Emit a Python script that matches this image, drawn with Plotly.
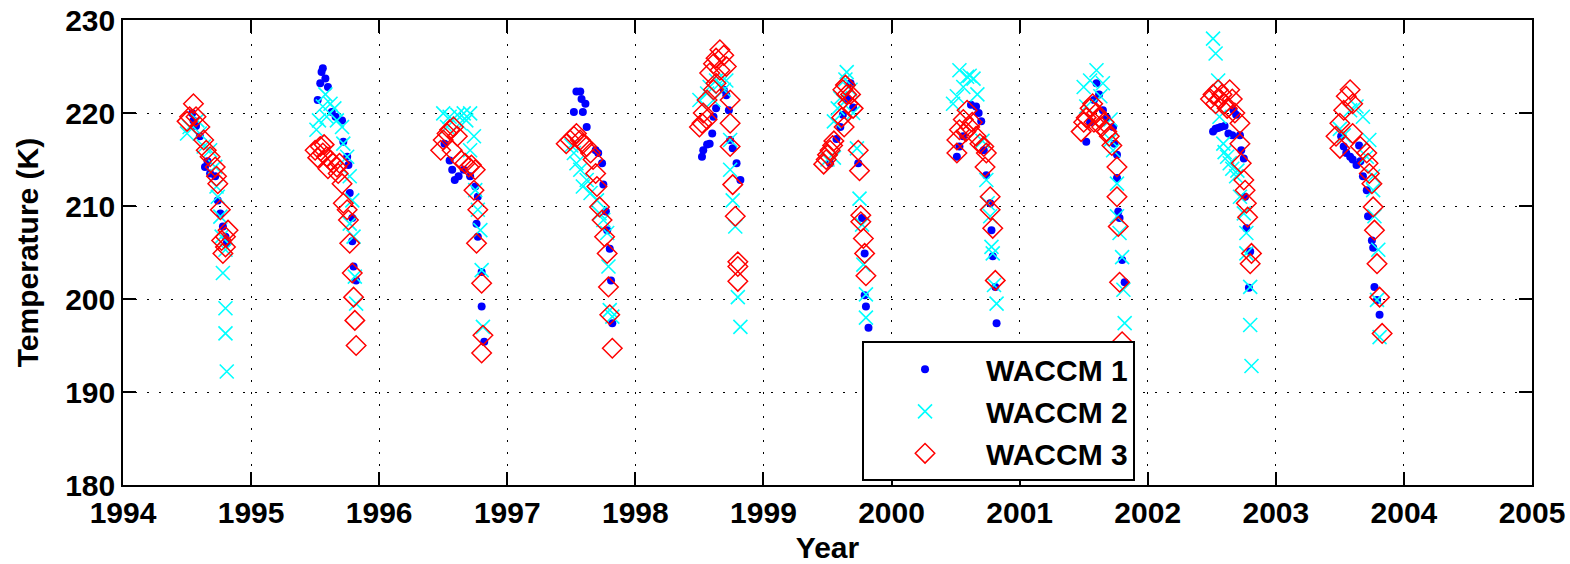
import plotly.graph_objects as go

# ---------------- data (decimal year, temperature K) ----------------
waccm1_year = [
    1994.54, 1994.55, 1994.57, 1994.60, 1994.64, 1994.66, 1994.68, 1994.72, 1994.74, 1994.76, 1994.78, 1994.80, 1994.81,
    1995.56, 1995.55, 1995.58, 1995.54, 1995.60, 1995.52, 1995.63, 1995.66, 1995.71, 1995.72, 1995.75, 1995.76, 1995.77, 1995.79, 1995.79, 1995.80, 1995.82,
    1996.51, 1996.55, 1996.57, 1996.59, 1996.62, 1996.66, 1996.71, 1996.75, 1996.77, 1996.76, 1996.77, 1996.80, 1996.80, 1996.82,
    1997.54, 1997.57, 1997.58, 1997.61, 1997.52, 1997.59, 1997.62, 1997.69, 1997.71, 1997.74, 1997.75, 1997.77, 1997.78, 1997.80, 1997.81, 1997.82,
    1998.52, 1998.53, 1998.56, 1998.58, 1998.60, 1998.63, 1998.61, 1998.69, 1998.71, 1998.73, 1998.74, 1998.76, 1998.79, 1998.82,
    1999.52, 1999.57, 1999.60, 1999.62, 1999.66, 1999.68, 1999.70, 1999.74, 1999.77, 1999.79, 1999.79, 1999.80, 1999.82,
    2000.66, 2000.70, 2000.53, 2000.51, 2000.62, 2000.68, 2000.56, 2000.72, 2000.74, 2000.77, 2000.78, 2000.79, 2000.81, 2000.82,
    2001.52, 2001.55, 2001.60, 2001.62, 2001.58, 2001.65, 2001.68, 2001.73, 2001.74, 2001.76, 2001.76, 2001.77, 2001.78, 2001.80, 2001.82,
    2002.51, 2002.53, 2002.55, 2002.57, 2002.60, 2002.63, 2002.66, 2002.67, 2002.69, 2002.72, 2002.73, 2002.75, 2002.76, 2002.77, 2002.80, 2002.79,
    2003.51, 2003.53, 2003.55, 2003.58, 2003.60, 2003.65, 2003.66, 2003.63, 2003.68, 2003.71, 2003.72, 2003.75, 2003.76, 2003.77, 2003.79, 2003.81,
]
waccm1_temp = [
    219.96, 219.2, 218.6, 217.5, 214.2, 214.8, 213.5, 213.2, 210.6, 209.2, 207.8, 206.7, 206.0,
    224.8, 224.4, 223.7, 223.2, 222.8, 221.4, 220.1, 219.6, 219.2, 216.9, 215.3, 214.4, 211.4, 208.7, 206.2, 203.5, 202.0,
    216.7, 214.9, 213.9, 212.8, 213.2, 213.9, 213.2, 212.1, 211.0, 208.1, 206.7, 202.9, 199.2, 195.4,
    222.3, 222.3, 221.5, 221.0, 220.1, 220.1, 218.5, 216.0, 215.7, 214.6, 212.3, 209.4, 207.4, 205.4, 202.0, 197.4,
    215.3, 216.0, 216.6, 216.7, 217.8, 220.5, 219.6, 222.5, 221.9, 220.3, 217.1, 216.2, 214.6, 212.8,
    214.6, 217.2, 218.5, 219.8, 221.5, 223.2, 220.6, 214.6, 208.7, 204.9, 200.4, 199.2, 196.9,
    220.7, 219.1, 216.4, 215.3, 220.9, 220.0, 217.5, 216.0, 213.3, 210.3, 207.4, 204.6, 201.3, 197.4,
    216.9, 219.0, 223.2, 222.0, 221.4, 220.3, 219.5, 218.5, 216.7, 215.5, 213.0, 209.4, 208.7, 204.2, 201.8,
    218.0, 218.3, 218.4, 218.5, 218.6, 217.8, 217.6, 220.3, 219.8, 217.6, 216.0, 215.1, 211.0, 207.6, 205.1, 201.2,
    217.5, 216.4, 215.7, 215.3, 215.0, 216.5, 214.8, 214.4, 213.2, 211.7, 208.9, 206.3, 205.5, 201.3, 199.9, 198.3,
]

waccm2_year = [
    1994.50, 1994.52, 1994.58, 1994.60, 1994.63, 1994.68, 1994.72, 1994.73, 1994.74, 1994.76, 1994.77, 1994.80, 1994.78, 1994.80, 1994.80, 1994.81,
    1995.56, 1995.62, 1995.59, 1995.53, 1995.67, 1995.71, 1995.51, 1995.58, 1995.65, 1995.72, 1995.75, 1995.77, 1995.79, 1995.77, 1995.80, 1995.81, 1995.82,
    1996.50, 1996.55, 1996.61, 1996.66, 1996.68, 1996.71, 1996.53, 1996.63, 1996.74, 1996.71, 1996.75, 1996.77, 1996.79, 1996.80, 1996.81,
    1997.50, 1997.52, 1997.54, 1997.57, 1997.59, 1997.62, 1997.65, 1997.70, 1997.72, 1997.75, 1997.78, 1997.79, 1997.80, 1997.82,
    1998.50, 1998.56, 1998.58, 1998.63, 1998.66, 1998.61, 1998.69, 1998.71, 1998.74, 1998.74, 1998.76, 1998.78, 1998.80, 1998.82,
    1999.65, 1999.64, 1999.60, 1999.58, 1999.55, 1999.50, 1999.55, 1999.68, 1999.70, 1999.73, 1999.75, 1999.77, 1999.78, 1999.80, 1999.80,
    2000.53, 2000.59, 2000.64, 2000.56, 2000.51, 2000.48, 2000.61, 2000.67, 2000.71, 2000.74, 2000.75, 2000.77, 2000.78, 2000.79, 2000.80, 2000.82,
    2001.60, 2001.50, 2001.55, 2001.65, 2001.63, 2001.52, 2001.71, 2001.71, 2001.73, 2001.76, 2001.76, 2001.78, 2001.80, 2001.81, 2001.82,
    2002.51, 2002.53, 2002.55, 2002.56, 2002.59, 2002.60, 2002.62, 2002.64, 2002.66, 2002.69, 2002.70, 2002.72, 2002.75, 2002.77, 2002.77, 2002.80, 2002.80, 2002.81,
    2003.63, 2003.68, 2003.58, 2003.50, 2003.53, 2003.73, 2003.71, 2003.76, 2003.76, 2003.77, 2003.80, 2003.79, 2003.81,
]
waccm2_temp = [
    217.8, 218.5, 219.2, 217.8, 216.4, 216.0, 214.2, 212.1, 211.0, 208.85, 206.7, 205.3, 202.8, 199.0, 196.3, 192.2,
    220.7, 221.0, 219.6, 219.2, 219.2, 218.5, 218.2, 222.0, 220.5, 216.7, 215.3, 213.2, 210.6, 208.1, 206.7, 202.4, 199.5,
    219.96, 219.6, 219.8, 219.96, 219.2, 219.96, 218.5, 218.9, 217.5, 216.0, 211.7, 209.6, 207.4, 203.1, 197.0,
    216.5, 215.7, 214.6, 213.9, 212.1, 212.8, 211.4, 210.6, 209.2, 208.5, 207.1, 203.5, 198.8, 198.1,
    221.4, 222.1, 222.8, 223.5, 223.2, 221.4, 222.5, 223.5, 217.1, 213.9, 210.6, 207.8, 200.2, 197.0,
    224.4, 223.6, 221.6, 220.5, 219.1, 215.0, 215.2, 222.5, 220.0, 216.2, 210.8, 208.0, 203.7, 200.5, 198.0,
    224.6, 223.9, 223.7, 222.8, 221.8, 221.0, 224.0, 222.0, 217.0, 212.8, 210.3, 208.9, 205.6, 204.9, 201.5, 199.5,
    224.6, 222.8, 223.5, 223.2, 221.8, 220.7, 219.3, 217.1, 216.0, 212.4, 208.9, 207.1, 204.5, 201.0, 197.4,
    228.0, 226.4, 223.5, 219.6, 216.7, 215.8, 215.3, 214.6, 214.0, 213.2, 213.8, 211.0, 209.2, 207.1, 204.9, 201.3, 197.2, 192.8,
    220.7, 219.6, 220.3, 218.3, 217.6, 217.1, 215.3, 213.2, 211.7, 208.9, 205.3, 199.9, 195.9,
]

waccm3_year = [
    1994.55, 1994.52, 1994.50, 1994.57, 1994.60, 1994.63, 1994.65, 1994.68, 1994.72, 1994.73, 1994.74, 1994.76, 1994.82, 1994.77, 1994.80, 1994.78, 1994.80,
    1995.50, 1995.52, 1995.54, 1995.56, 1995.57, 1995.59, 1995.60, 1995.62, 1995.64, 1995.67, 1995.69, 1995.68, 1995.71, 1995.72, 1995.75, 1995.76, 1995.77, 1995.79, 1995.80, 1995.81, 1995.82,
    1996.48, 1996.50, 1996.53, 1996.55, 1996.58, 1996.61, 1996.57, 1996.64, 1996.67, 1996.70, 1996.72, 1996.75, 1996.74, 1996.77, 1996.76, 1996.80, 1996.81, 1996.80,
    1997.46, 1997.49, 1997.52, 1997.54, 1997.57, 1997.59, 1997.62, 1997.65, 1997.67, 1997.69, 1997.70, 1997.72, 1997.74, 1997.76, 1997.78, 1997.79, 1997.80, 1997.82,
    1998.66, 1998.69, 1998.63, 1998.61, 1998.71, 1998.58, 1998.66, 1998.63, 1998.61, 1998.56, 1998.53, 1998.52, 1998.50, 1998.56, 1998.74, 1998.74, 1998.74, 1998.76, 1998.78, 1998.80, 1998.80, 1998.80,
    1999.47, 1999.49, 1999.50, 1999.52, 1999.54, 1999.55, 1999.62, 1999.64, 1999.65, 1999.66, 1999.68, 1999.70, 1999.61, 1999.63, 1999.74, 1999.75, 1999.76, 1999.76, 1999.78, 1999.79, 1999.80,
    2000.59, 2000.56, 2000.53, 2000.51, 2000.51, 2000.61, 2000.66, 2000.69, 2000.72, 2000.74, 2000.73, 2000.63, 2000.58, 2000.77, 2000.77, 2000.79, 2000.81,
    2001.48, 2001.50, 2001.52, 2001.55, 2001.57, 2001.58, 2001.60, 2001.62, 2001.64, 2001.66, 2001.68, 2001.70, 2001.72, 2001.76, 2001.76, 2001.77, 2001.78, 2001.80,
    2002.49, 2002.51, 2002.53, 2002.55, 2002.56, 2002.58, 2002.60, 2002.62, 2002.64, 2002.66, 2002.68, 2002.72, 2002.72, 2002.73, 2002.75, 2002.76, 2002.77, 2002.78, 2002.81, 2002.80,
    2003.58, 2003.55, 2003.60, 2003.53, 2003.50, 2003.47, 2003.50, 2003.60, 2003.66, 2003.71, 2003.72, 2003.73, 2003.75, 2003.76, 2003.77, 2003.79, 2003.81, 2003.83,
]
waccm3_temp = [
    221.0, 219.6, 219.1, 219.6, 218.5, 217.1, 216.0, 215.3, 214.2, 213.2, 212.4, 209.6, 207.4, 206.3, 206.7, 204.9, 205.6,
    216.0, 215.2, 216.4, 215.7, 216.6, 215.3, 214.0, 214.9, 214.6, 214.2, 214.6, 213.5, 212.4, 210.3, 209.6, 208.5, 206.0, 202.8, 200.2, 197.7, 195.0,
    216.0, 217.1, 217.8, 218.2, 218.5, 217.5, 216.0, 214.9, 214.6, 214.2, 214.4, 213.9, 211.7, 209.6, 206.0, 201.7, 196.1, 194.2,
    216.7, 217.1, 217.5, 217.8, 217.1, 216.7, 216.4, 215.7, 215.0, 213.5, 212.1, 209.9, 208.5, 206.7, 204.9, 201.3, 198.3, 194.7,
    226.8, 226.2, 225.9, 225.3, 225.0, 224.3, 224.6, 223.2, 222.5, 221.4, 220.0, 218.9, 218.5, 219.3, 221.4, 218.9, 216.4, 212.3, 208.9, 203.5, 201.9, 204.0,
    214.5, 215.0, 215.5, 216.0, 216.5, 217.0, 222.5, 223.0, 222.0, 221.0, 222.0, 220.5, 219.5, 218.5, 216.0, 213.8, 209.0, 208.3, 206.5, 204.9, 202.5,
    220.3, 219.3, 218.2, 217.1, 215.7, 218.5, 217.5, 216.7, 216.4, 215.7, 214.2, 219.0, 218.0, 211.0, 209.6, 207.6, 202.0,
    218.0, 219.0, 219.5, 220.5, 221.0, 219.0, 220.0, 219.5, 218.5, 219.0, 218.0, 217.5, 216.5, 214.2, 211.0, 207.8, 201.8, 195.4,
    221.5, 222.0, 221.0, 222.5, 221.5, 222.0, 221.0, 220.5, 222.5, 221.5, 220.0, 218.9, 216.7, 214.6, 212.8, 211.7, 210.3, 208.8, 204.9, 203.8,
    222.5, 221.8, 221.0, 220.3, 218.9, 217.5, 216.2, 217.8, 216.4, 215.7, 214.6, 213.5, 212.4, 209.9, 207.4, 203.8, 200.2, 196.3,
]

series_names = ["WACCM 1", "WACCM 2", "WACCM 3"]
x_ticks = list(range(1994, 2006))
y_ticks = [180, 190, 200, 210, 220, 230]

FONT = "Liberation Sans, Arial, Helvetica, sans-serif"

fig = go.Figure()
fig.add_trace(go.Scatter(
    x=waccm1_year, y=waccm1_temp, mode="markers", name=series_names[0],
    marker=dict(symbol="circle", size=8, color="#0000FF", line=dict(width=0)),
))
fig.add_trace(go.Scatter(
    x=waccm2_year, y=waccm2_temp, mode="markers", name=series_names[1],
    marker=dict(symbol="x-thin-open", size=14, color="#00FFFF",
                line=dict(width=1.6, color="#00FFFF")),
))
fig.add_trace(go.Scatter(
    x=waccm3_year, y=waccm3_temp, mode="markers", name=series_names[2],
    marker=dict(symbol="diamond-open", size=15, color="#FF0000",
                line=dict(width=1.5, color="#FF0000")),
))

axis_common = dict(
    showline=True, linecolor="black", linewidth=1.5, mirror="ticks",
    ticks="inside", ticklen=13, tickwidth=1.5, tickcolor="black",
    showgrid=True, gridcolor="black", gridwidth=1, griddash="2px,10px",
    zeroline=False,
    tickfont=dict(family=FONT, size=30, color="black", weight="bold"),
)

fig.update_xaxes(
    range=[1994, 2005], tickmode="array", tickvals=x_ticks,
    ticktext=[str(t) for t in x_ticks],
    title=dict(text="Year", font=dict(family=FONT, size=30, color="black", weight="bold"),
               standoff=11),
    **axis_common,
)
fig.update_yaxes(
    range=[180, 230], tickmode="array", tickvals=y_ticks,
    ticktext=[str(t) for t in y_ticks],
    title=dict(text="Temperature (K)", font=dict(family=FONT, size=30, color="black", weight="bold"),
               standoff=18),
    **axis_common,
)

fig.update_layout(
    width=1570, height=564,
    margin=dict(l=123, r=38, t=20, b=79, autoexpand=False),
    paper_bgcolor="white", plot_bgcolor="white",
    showlegend=True,
    legend=dict(
        x=0.5245, y=0.309, xanchor="left", yanchor="top",
        bgcolor="white", bordercolor="black", borderwidth=2,
        font=dict(family=FONT, size=30, color="black", weight="bold"),
        itemwidth=112, tracegroupgap=0,
    ),
)

fig.write_html("out.html", include_plotlyjs=True, config={"displayModeBar": False})
